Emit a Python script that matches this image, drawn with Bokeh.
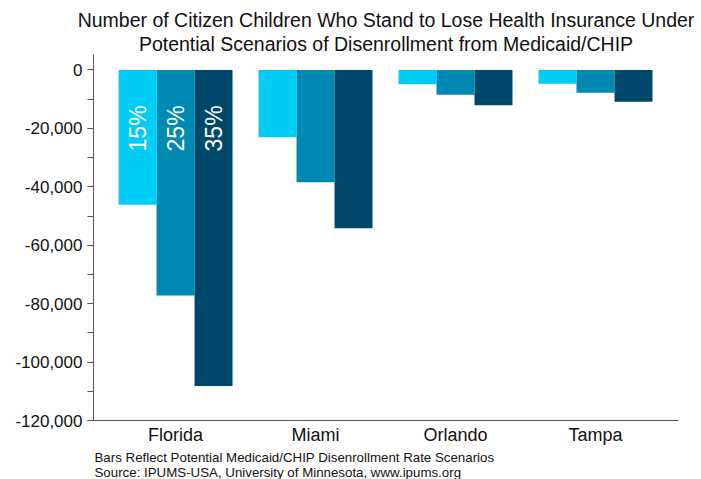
from bokeh.plotting import figure
from bokeh.models import (ColumnDataSource, Range1d, FixedTicker, SingleIntervalTicker,
                          NumeralTickFormatter, Title, LabelSet)
from bokeh.core.properties import value
from bokeh.embed import file_html
from bokeh.resources import INLINE

# ---- data ----
cities = ["Florida", "Miami", "Orlando", "Tampa"]
scenarios = ["15%", "25%", "35%"]
rate_15 = [-46100, -23000, -4900, -4700]
rate_25 = [-77200, -38400, -8500, -7800]
rate_35 = [-108200, -54200, -12100, -10900]

title_lines = ["Number of Citizen Children Who Stand to Lose Health Insurance Under",
               "Potential Scenarios of Disenrollment from Medicaid/CHIP"]
notes = ["Bars Reflect Potential Medicaid/CHIP Disenrollment Rate Scenarios",
         "Source: IPUMS-USA, University of Minnesota, www.ipums.org"]

colors = ["#00CDF6", "#0089B3", "#00486A"]
FONT = "Liberation Sans"

p = figure(width=701, height=479, title=None, output_backend="svg", toolbar_location=None,
           x_range=Range1d(-0.586, 3.593), y_range=Range1d(-120000, 5300),
           min_border_left=93, min_border_right=23, min_border_top=54, min_border_bottom=59)
p.outline_line_color = None
p.xgrid.visible = False
p.ygrid.visible = False
p.background_fill_color = "white"
p.border_fill_color = "white"

bw = 0.2714
series = [rate_15, rate_25, rate_35]
for k, vals in enumerate(series):
    off = (k - 1) * bw
    src = ColumnDataSource(dict(x=[i + off for i in range(len(cities))], top=vals))
    p.vbar(x="x", top="top", bottom=0, width=bw, source=src,
           fill_color=colors[k], line_color=None)

# scenario labels inside the Florida bars
lab_src = ColumnDataSource(dict(x=[(k - 1) * bw for k in range(3)],
                                y=[-20000] * 3, text=scenarios))
p.add_layout(LabelSet(x="x", y="y", text="text", source=lab_src, angle=1.5708,
                      text_align="center", text_baseline="middle",
                      text_color="white", text_font=value(FONT), text_font_size="23px"))

# y axis
ya = p.yaxis[0]
ya.ticker = SingleIntervalTicker(interval=20000, num_minor_ticks=2)
ya.formatter = NumeralTickFormatter(format="0,0")
ya.major_label_text_font = FONT
ya.major_label_text_font_size = "17px"
ya.major_label_text_color = "#111111"
ya.axis_line_color = "#555555"
ya.major_tick_line_color = "#555555"
ya.minor_tick_line_color = "#555555"
ya.major_tick_out = 6
ya.major_tick_in = 0
ya.minor_tick_out = 6
ya.minor_tick_in = 0
ya.major_label_standoff = 5

# x axis
xa = p.xaxis[0]
xa.ticker = FixedTicker(ticks=list(range(len(cities))))
xa.major_label_overrides = {i: c for i, c in enumerate(cities)}
xa.major_label_text_font = FONT
xa.major_label_text_font_size = "18px"
xa.major_label_text_color = "#111111"
xa.axis_line_color = "#555555"
xa.major_tick_line_color = None
xa.minor_tick_line_color = None
xa.major_tick_out = 0
xa.major_tick_in = 0
xa.major_label_standoff = 4

# footnotes below (first added is closest to the plot)
for j, t in enumerate(notes):
    p.add_layout(Title(text=t, align="left", offset=1, standoff=(0 if j == 0 else -3),
                       text_font=FONT, text_font_size="13.3px", text_font_style="normal",
                       text_color="#111111"), "below")

# title lines above (first added is closest to the plot)
for t in reversed(title_lines):
    p.add_layout(Title(text=t, align="center", standoff=0,
                       text_font=FONT, text_font_size="19.5px", text_font_style="normal",
                       text_color="#111111"), "above")

open("out.html", "w").write(file_html(p, INLINE))
